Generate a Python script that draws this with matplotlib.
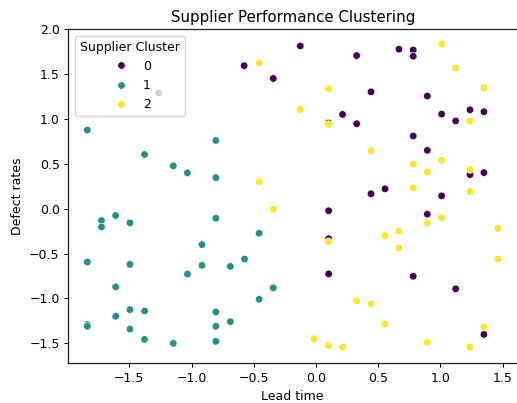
import matplotlib
matplotlib.use("Agg")
import matplotlib.pyplot as plt
import numpy as np
import pandas as pd
import seaborn as sns

# cluster 0 points (lead time, defect rate)
lead_0 = [-1.264, -0.577, -0.343, -0.126, 0.327, 0.667, 0.782, 0.782,
          0.442, 0.895, 0.214, 0.102, 0.327, 1.010, 1.123, 1.238, 1.350,
          0.782, 0.895, 1.238, 1.350, 0.442, 0.555, 1.010,
          0.102, 0.895, 0.102, 0.102, 0.782, 1.123, 1.350]
defect_0 = [1.291, 1.594, 1.452, 1.814, 1.707, 1.778, 1.770, 1.700,
            1.303, 1.256, 1.051, 0.956, 0.948, 1.055, 0.978, 1.103, 1.081,
            0.811, 0.651, 0.381, 0.403, 0.167, 0.222, 0.144,
            -0.022, -0.060, -0.333, -0.726, -0.752, -0.893, -1.400]

# cluster 1 points
lead_1 = [-1.838, -0.805, -1.378, -1.147, -1.033, -0.805,
          -1.610, -1.724, -1.724, -1.495, -0.805, -0.457, -0.916, -1.838,
          -1.495, -0.916, -0.574, -0.688, -1.033, -1.610, -0.343, -0.457,
          -1.495, -1.378, -0.805, -1.610, -0.688, -1.838, -1.838, -1.495,
          -0.805, -1.378, -1.147, -0.805]
defect_1 = [0.877, 0.761, 0.605, 0.478, 0.400, 0.347,
            -0.075, -0.131, -0.202, -0.157, -0.105, -0.272, -0.399, -0.594,
            -0.620, -0.631, -0.560, -0.642, -0.728, -0.870, -0.881, -1.008,
            -1.124, -1.139, -1.150, -1.198, -1.258, -1.290, -1.310, -1.340,
            -1.310, -1.456, -1.500, -1.478]

# cluster 2 points
lead_2 = [-0.457, -0.457, -0.343, 1.010, 1.123, 0.102, 1.350, -0.126,
          0.102, 1.238, 0.442, 1.010, 0.782, 0.895, 1.238, 0.782, 1.238,
          1.010, 0.895, 0.667, 0.555, 1.463, 0.102, 0.667, 1.463,
          0.327, 0.442, 0.555, 1.350, -0.014, 0.102, 0.214, 0.895, 1.238]
defect_2 = [1.627, 0.302, -0.004, 1.837, 1.567, 1.337, 1.348, 1.107,
            0.940, 0.978, 0.648, 0.540, 0.496, 0.411, 0.437, 0.233, 0.192,
            -0.100, -0.160, -0.249, -0.300, -0.219, -0.367, -0.437, -0.560,
            -1.026, -1.060, -1.285, -1.319, -1.449, -1.526, -1.541, -1.489, -1.541]

df = pd.DataFrame({
    "Lead time": lead_0 + lead_1 + lead_2,
    "Defect rates": defect_0 + defect_1 + defect_2,
    "Supplier Cluster": [0] * len(lead_0) + [1] * len(lead_1) + [2] * len(lead_2),
})

dpi = 90
fig = plt.figure(figsize=(517 / dpi, 403 / dpi), dpi=dpi)
# the original is cropped on the right, so the axes stop at the figure edge
ax = fig.add_axes([0.1323, 0.099, 0.8677, 0.8283])

sns.scatterplot(data=df, x="Lead time", y="Defect rates", hue="Supplier Cluster",
                palette="viridis", ax=ax)

ax.set_xlim(-1.99, 1.616)
ax.set_ylim(-1.72, 2.0)
ax.set_xticks([-1.5, -1.0, -0.5, 0.0, 0.5, 1.0, 1.5])
for side in ["top", "left", "bottom"]:
    ax.spines[side].set_visible(True)
    ax.spines[side].set_color("#222222")
    ax.spines[side].set_linewidth(1.0)
ax.spines["right"].set_visible(False)
ax.set_title("Supplier Performance Clustering")
ax.legend(title="Supplier Cluster", loc="upper left")

fig.savefig("out.png", dpi=dpi)
